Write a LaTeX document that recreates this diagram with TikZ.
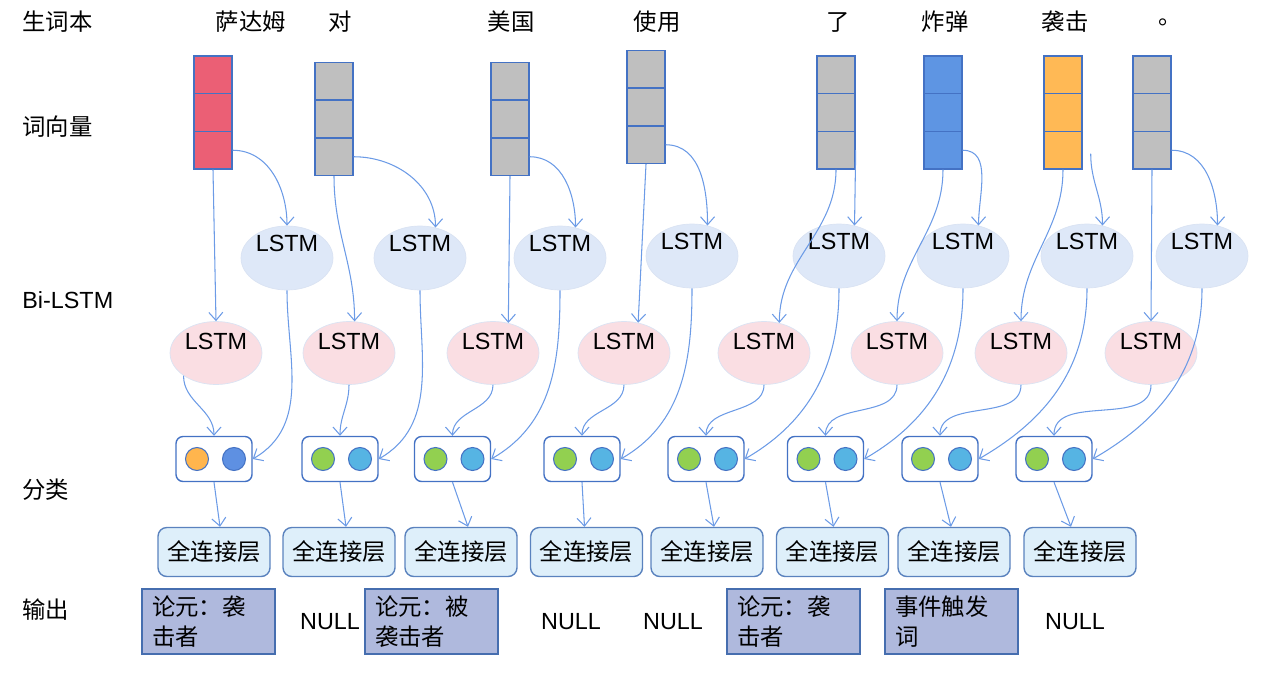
\documentclass[tikz,border=0pt]{standalone}
\usepackage{fontspec}
\setmainfont{Liberation Sans}
\newfontfamily\cjk{Noto Sans CJK SC}
\usepackage{xcolor}
\usepackage{tikz}
\usetikzlibrary{shapes.geometric,positioning,calc,arrows.meta}

\newcommand{\diagfont}{\fontsize{13.3}{17}\selectfont}

\definecolor{linkblue}{RGB}{108,155,230}
\definecolor{edgeblue}{RGB}{68,114,196}
\definecolor{vred}{RGB}{235,95,117}
\definecolor{vgray}{RGB}{191,191,191}
\definecolor{vblue}{RGB}{94,149,227}
\definecolor{vorange}{RGB}{255,185,85}
\definecolor{bwfill}{RGB}{222,232,248}
\definecolor{fwfill}{RGB}{250,222,227}
\definecolor{lstmedge}{RGB}{218,227,243}
\definecolor{uorange}{RGB}{255,181,77}
\definecolor{ublue}{RGB}{94,144,226}
\definecolor{ugreen}{RGB}{146,208,80}
\definecolor{ucyan}{RGB}{86,180,227}
\definecolor{fcfill}{RGB}{222,239,250}
\definecolor{fcedge}{RGB}{90,130,190}
\definecolor{outfill}{RGB}{175,185,221}
\definecolor{outedge}{RGB}{70,110,175}

\begin{document}
\begin{tikzpicture}[
    x=0.02cm, y=-0.02cm,
    font=\diagfont,
    >={Straight Barb[length=1.6mm,width=2.8mm]},
    zh/.style={font=\cjk\diagfont},
    link/.style={->, draw=linkblue, line width=0.6pt},
    wordvec/.style={rectangle, draw=edgeblue, line width=0.8pt, minimum width=0.76cm, minimum height=2.26cm, inner sep=0},
    bwlstm/.style={ellipse, fill=bwfill, draw=lstmedge, minimum width=1.84cm, minimum height=1.28cm, inner sep=0, text height=0.28cm, text depth=0.56cm},
    fwlstm/.style={ellipse, fill=fwfill, draw=lstmedge, minimum width=1.84cm, minimum height=1.26cm, inner sep=0, text height=0.3cm, text depth=0.45cm},
    clsbox/.style={rectangle, rounded corners=4pt, draw=edgeblue, line width=0.8pt, fill=white, minimum width=1.52cm, minimum height=0.9cm},
    unit/.style={circle, draw=edgeblue, line width=0.6pt, minimum size=0.46cm, inner sep=0},
    fcbox/.style={rectangle, rounded corners=5pt, draw=fcedge, line width=0.8pt, fill=fcfill, minimum width=2.24cm, minimum height=0.98cm, zh},
    outbox/.style={rectangle, draw=outedge, line width=0.8pt, fill=outfill, minimum width=2.66cm, minimum height=1.3cm, text width=2.26cm, align=left, inner xsep=0.2cm, zh},
    rowlab/.style={anchor=west, inner sep=0}
]
    \useasboundingbox (0,0) rectangle (1261,676);

    % row labels
    \node[rowlab, zh] (lab1) at (22,22) {生词本};
    \node[rowlab, zh] (lab2) at (22,127) {词向量};
    \node[rowlab] (lab3) at (22,300) {Bi-LSTM};
    \node[rowlab, zh] (lab4) at (22,490) {分类};
    \node[rowlab, zh] (lab5) at (22,610) {输出};

    % words and word vectors
    \foreach \i/\x/\w in {1/251/萨达姆, 2/340/对, 3/511/美国, 4/657/使用, 5/838/了, 6/945/炸弹, 7/1065/袭击, 8/1170/。} {
        \node[zh] (w\i) at (\x,22) {\w};
    }
    \foreach \i/\x/\y/\c in {1/213/112.5/vred, 2/334/119/vgray, 3/510/119/vgray, 4/646/107/vgray, 5/836/112.5/vgray, 6/943/112.5/vblue, 7/1063/112.5/vorange, 8/1152/112.5/vgray} {
        \node[wordvec, fill=\c] (v\i) at (\x,\y) {};
        \draw[edgeblue, line width=0.8pt] ($(v\i.north west)!1/3!(v\i.south west)$) -- ($(v\i.north east)!1/3!(v\i.south east)$);
        \draw[edgeblue, line width=0.8pt] ($(v\i.north west)!2/3!(v\i.south west)$) -- ($(v\i.north east)!2/3!(v\i.south east)$);
    }

    % Bi-LSTM
    \foreach \i/\x/\y in {1/287/258, 2/420/258, 3/560/258, 4/692/256, 5/839/256, 6/963/256, 7/1087/256, 8/1202/256} {
        \node[bwlstm] (b\i) at (\x,\y) {LSTM};
    }
    \foreach \i/\x in {1/216, 2/349, 3/493, 4/624, 5/764, 6/897, 7/1021, 8/1151} {
        \node[fwlstm] (f\i) at (\x,353) {LSTM};
    }

    % classification units
    \foreach \i/\x/\l/\r in {1/214/uorange/ublue, 2/340/ugreen/ucyan, 3/452.5/ugreen/ucyan, 4/582/ugreen/ucyan, 5/706/ugreen/ucyan, 6/825.5/ugreen/ucyan, 7/940/ugreen/ucyan, 8/1054/ugreen/ucyan} {
        \node[clsbox] (c\i) at (\x,459) {};
        \node[unit, fill=\l] (cl\i) at ($(c\i)+(-17,0)$) {};
        \node[unit, fill=\r] (cr\i) at ($(c\i)+(20,0)$) {};
    }

    % fully connected layers
    \foreach \i/\x in {1/214, 2/339, 3/461, 4/586.5, 5/707, 6/832.5, 7/954, 8/1080} {
        \node[fcbox] (d\i) at (\x,552) {全连接层};
    }

    % outputs
    \node[outbox] (o1) at (208.5,621.5) {论元：袭\\击者};
    \node (o2) at (330,622) {NULL};
    \node[outbox] (o3) at (431.5,621.5) {论元：被\\袭击者};
    \node (o4) at (571,622) {NULL};
    \node (o5) at (673,622) {NULL};
    \node[outbox] (o6) at (793.5,621.5) {论元：袭\\击者};
    \node[outbox] (o7) at (951.5,621.5) {事件触发\\词};
    \node (o8) at (1075,622) {NULL};

    % vectors into forward LSTMs
    \draw[link] (v1.south) -- (f1.north);
    \draw[link] (v2.south) to[out=-90,in=90] (f2.80);
    \draw[link] (v3.south) -- (f3.63);
    \draw[link] (v4.south) -- (f4.65);
    \draw[link] (v5.south) to[out=-90,in=90] (f5.63);
    \draw[link] (v6.south) to[out=-90,in=90] (f6.north);
    \draw[link] (v7.south) to[out=-90,in=90] (f7.north);
    \draw[link] (v8.south) -- (f8.north);

    % vectors into backward LSTMs
    \foreach \i/\a in {1/90, 2/63, 3/63, 4/63, 6/63, 8/63} {
        \draw[link] ($(v\i.north east)!0.83!(v\i.south east)$) to[out=0,in=90] (b\i.\a);
    }
    \draw[link] ($(v5.north east)!0.83!(v5.south east)$) -- (b5.63);
    \draw[link] ($(v7.north east)!0.86!(v7.south east)+(8,0)$) to[out=-90,in=90] (b7.63);

    % LSTMs into classification units
    \draw[link] (f1.215) to[out=-90,in=90] (c1.north);
    \foreach \i in {2,...,8} {
        \draw[link] (f\i.south) to[out=-90,in=90] (c\i.north);
    }
    \foreach \i in {1,...,8} {
        \draw[link] (b\i.south) to[out=-90,in=30] (c\i.east);
    }

    % classification into fully connected
    \foreach \i/\s in {1/6, 2/7, 3/7, 4/-2, 5/7, 6/1, 7/-3, 8/-9} {
        \draw[link] (c\i.south) -- ($(d\i.north)+(\s,0)$);
    }

\end{tikzpicture}
\end{document}
